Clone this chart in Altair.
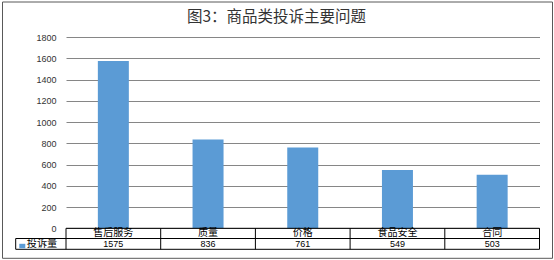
import altair as alt
import pandas as pd

# ---- data ----
categories = ["售后服务", "质量", "价格", "食品安全", "合同"]
values = [1575, 836, 761, 549, 503]
series_name = "投诉量"
y_ticks = [0, 200, 400, 600, 800, 1000, 1200, 1400, 1600, 1800]
title_text = "图3：商品类投诉主要问题"

df = pd.DataFrame({"cat": categories, "val": values})
one = pd.DataFrame({"k": [0]})

W = 473.5
H = 191.3
PAD_L, PAD_T = 66, 37

CJK = "Noto Sans CJK SC"
LAT = "Liberation Sans"

xscale = alt.Scale(domain=categories, paddingInner=0, paddingOuter=0)

bars = alt.Chart(df).mark_bar(size=31, color="#5B9BD5").encode(
    x=alt.X("cat:N", scale=xscale, sort=categories, axis=None),
    y=alt.Y(
        "val:Q",
        scale=alt.Scale(domain=[0, 1800], nice=False),
        axis=alt.Axis(
            values=y_ticks,
            format="d",
            title=None,
            domain=False,
            ticks=False,
            labelPadding=10,
            labelFont=LAT,
            labelFontSize=9,
            labelColor="#333333",
            grid=True,
            gridColor="#868686",
            gridWidth=1,
        ),
    ),
)

# table: category row
cat_text = alt.Chart(df).mark_text(font=CJK, fontSize=10, color="#000000", baseline="middle").encode(
    x=alt.X("cat:N", scale=xscale, sort=categories, bandPosition=0.5, axis=None),
    y=alt.value(196.3),
    text="cat:N",
)
# value row
val_text = alt.Chart(df).mark_text(font=LAT, fontSize=9, color="#000000", baseline="middle").encode(
    x=alt.X("cat:N", scale=xscale, sort=categories, bandPosition=0.5, axis=None),
    y=alt.value(207),
    text="val:Q",
)
# column separators
col_lines = alt.Chart(df).mark_rule(color="#000000", strokeWidth=1).encode(
    x=alt.X("cat:N", scale=xscale, sort=categories, bandPosition=0, axis=None),
    y=alt.value(191.3),
    y2=alt.value(212.3),
)
right_line = alt.Chart(one).mark_rule(color="#000000", strokeWidth=1).encode(
    x=alt.value(W), y=alt.value(191.3), y2=alt.value(212.3)
)
legend_left = alt.Chart(one).mark_rule(color="#000000", strokeWidth=1).encode(
    x=alt.value(-50.3), y=alt.value(201.5), y2=alt.value(212.3)
)
top_line = alt.Chart(one).mark_rule(color="#000000", strokeWidth=1).encode(
    x=alt.value(0), x2=alt.value(W), y=alt.value(191.3)
)
mid_line = alt.Chart(one).mark_rule(color="#000000", strokeWidth=1).encode(
    x=alt.value(-50.3), x2=alt.value(W), y=alt.value(201.5)
)
bot_line = alt.Chart(one).mark_rule(color="#000000", strokeWidth=1).encode(
    x=alt.value(-50.3), x2=alt.value(W), y=alt.value(212.3)
)
legend_sq = alt.Chart(one).mark_rect(color="#5B9BD5").encode(
    x=alt.value(-46.7), x2=alt.value(-40.7), y=alt.value(206.8), y2=alt.value(211.3)
)
legend_txt = alt.Chart(pd.DataFrame({"s": [series_name]})).mark_text(
    font=CJK, fontSize=10.2, color="#000000", align="left", baseline="middle"
).encode(x=alt.value(-39.3), y=alt.value(207), text="s:N")

title_mark = alt.Chart(pd.DataFrame({"t": [title_text]})).mark_text(
    font=CJK, fontSize=15.5, color="#333333", align="center", baseline="middle"
).encode(x=alt.value(276.5 - PAD_L), y=alt.value(17 - PAD_T), text="t:N")

frame = alt.Chart(one).mark_rect(fillOpacity=0, stroke="#595959", strokeWidth=1).encode(
    x=alt.value(-63.5), x2=alt.value(486.5), y=alt.value(-35), y2=alt.value(221.3)
)

chart = alt.layer(
    frame, bars, top_line, mid_line, bot_line, col_lines, right_line, legend_left,
    cat_text, val_text, legend_sq, legend_txt, title_mark,
).properties(
    width=W,
    height=H,
    autosize=alt.AutoSizeParams(type="none"),
    padding={"left": PAD_L, "top": PAD_T, "right": 554 - PAD_L - W, "bottom": 260 - PAD_T - H},
).configure_view(stroke=None)

chart.save("out.html", embed_options={"renderer": "svg", "actions": False})
